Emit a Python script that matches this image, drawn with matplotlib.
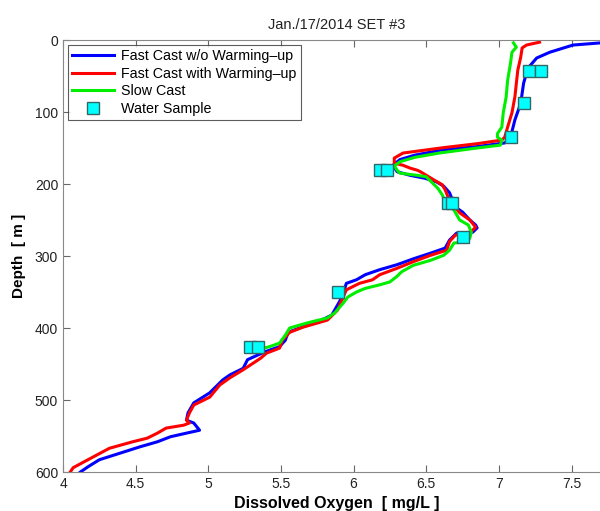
import matplotlib.pyplot as plt

# Fast cast without warming-up (blue)
blue_depth = [0, 4, 7, 17, 25, 39, 60, 88, 111, 135, 143, 148, 153, 160, 166, 174,
              183, 188, 192, 197, 203, 212, 222, 232, 239, 250, 257, 261, 267, 268,
              278, 289, 296, 304, 312, 319, 326, 333, 338, 351, 357, 368, 382, 389,
              399, 406, 417, 426, 433, 444, 456, 465, 472, 490, 504, 518, 528, 532,
              542, 546, 551, 558, 565, 574, 583, 593, 600]
blue_do = [7.95, 7.70, 7.51, 7.35, 7.26, 7.20, 7.17, 7.15, 7.11, 7.08, 7.04, 6.85, 6.60,
           6.42, 6.32, 6.27, 6.30, 6.39, 6.49, 6.57, 6.62, 6.66, 6.68, 6.70, 6.75, 6.80,
           6.84, 6.85, 6.82, 6.71, 6.66, 6.63, 6.53, 6.41, 6.30, 6.18, 6.08, 6.02, 5.95,
           5.93, 5.92, 5.89, 5.85, 5.78, 5.64, 5.55, 5.53, 5.49, 5.39, 5.27, 5.24, 5.15,
           5.10, 5.01, 4.90, 4.86, 4.85, 4.90, 4.94, 4.85, 4.74, 4.65, 4.53, 4.39, 4.25,
           4.17, 4.12]

# Fast cast with warming-up (red)
red_depth = [3, 7, 11, 24, 42, 79, 101, 121, 135, 139, 144, 150, 157, 164, 171, 174,
             178, 181, 183, 194, 201, 208, 218, 230, 240, 250, 260, 268, 271, 280, 292,
             299, 308, 317, 326, 333, 338, 347, 361, 375, 389, 399, 406, 417, 428, 435,
             442, 458, 469, 479, 496, 507, 518, 528, 532, 535, 539, 546, 553, 558, 567,
             581, 594, 600]
red_do = [7.28, 7.19, 7.16, 7.15, 7.13, 7.11, 7.09, 7.06, 7.04, 7.02, 6.85, 6.60, 6.34,
          6.28, 6.28, 6.34, 6.39, 6.44, 6.46, 6.55, 6.61, 6.63, 6.65, 6.69, 6.73, 6.80,
          6.84, 6.80, 6.70, 6.66, 6.64, 6.53, 6.41, 6.30, 6.18, 6.13, 6.04, 5.95, 5.92,
          5.89, 5.82, 5.65, 5.56, 5.51, 5.49, 5.40, 5.36, 5.24, 5.15, 5.08, 5.01, 4.90,
          4.87, 4.85, 4.87, 4.83, 4.71, 4.65, 4.58, 4.48, 4.32, 4.19, 4.07, 4.05]

# Slow cast (green)
green_depth = [4, 10, 17, 32, 56, 79, 101, 121, 130, 135, 139, 146, 150, 157, 163, 169,
               175, 181, 185, 188, 190, 206, 215, 225, 236, 250, 257, 267, 275, 280, 282,
               292, 299, 306, 313, 322, 328, 336, 340, 345, 350, 357, 365, 379, 386, 393,
               400, 410, 421, 426, 430]
green_do = [7.10, 7.12, 7.09, 7.08, 7.06, 7.05, 7.03, 7.02, 6.99, 6.99, 7.02, 7.01, 6.85,
            6.59, 6.42, 6.32, 6.28, 6.30, 6.32, 6.44, 6.50, 6.58, 6.61, 6.63, 6.69, 6.73,
            6.79, 6.81, 6.80, 6.78, 6.69, 6.66, 6.62, 6.53, 6.41, 6.33, 6.30, 6.25, 6.18,
            6.08, 6.02, 5.96, 5.93, 5.87, 5.82, 5.68, 5.56, 5.53, 5.49, 5.42, 5.34]

# water samples
sample_do = [7.21, 7.29, 7.17, 7.08, 6.18, 6.23, 6.65, 6.68, 6.75, 5.89, 5.29, 5.34]
sample_depth = [43, 43, 88, 135, 181, 181, 226, 226, 273, 350, 426, 426]

plt.rcParams['font.family'] = ['Liberation Sans', 'DejaVu Sans']

fig = plt.figure(figsize=(6, 5.11), dpi=100)
ax = fig.add_axes([63 / 600, 1 - 472 / 511, 547 / 600, 432 / 511])

ax.plot(blue_do, blue_depth, color='#0000ff', lw=2.2, label='Fast Cast w/o Warming\u2013up')
ax.plot(red_do, red_depth, color='#ff0000', lw=2.2, label='Fast Cast with Warming\u2013up')
ax.plot(green_do, green_depth, color='#00ee00', lw=2.2, label='Slow Cast')
ax.plot(sample_do, sample_depth, 's', ms=8, mfc='#00ffff', mec='#336666', mew=1.0,
        ls='none', label='Water Sample')

ax.set_xlim(4, 4 + 547 / 145.3)
ax.set_ylim(600, 0)
ax.set_xticks([4, 4.5, 5, 5.5, 6, 6.5, 7, 7.5])
ax.set_xticklabels(['4', '4.5', '5', '5.5', '6', '6.5', '7', '7.5'])
ax.set_yticks([0, 100, 200, 300, 400, 500, 600])

for s in ax.spines.values():
    s.set_color('#888888')
ax.spines['right'].set_visible(False)
ax.tick_params(direction='in', top=True, right=False, length=5, color='#666666',
               labelsize=10, labelcolor='#222222')

ax.set_title('Jan./17/2014 SET #3', fontsize=10.5, color='#222222', pad=8)
ax.set_xlabel('Dissolved Oxygen  [ mg/L ]', fontsize=11.5, fontweight='bold', labelpad=4)
ax.set_ylabel('Depth  [ m ]', fontsize=11, fontweight='bold', labelpad=6)

leg = ax.legend(loc='upper left', fontsize=10.3, frameon=True, fancybox=False,
                borderaxespad=0.35, handlelength=2.9, handletextpad=0.5,
                labelspacing=0.25, borderpad=0.3, numpoints=1)
leg.get_frame().set_edgecolor('#333333')
leg.get_frame().set_linewidth(0.8)

fig.savefig('out.png', dpi=100)
